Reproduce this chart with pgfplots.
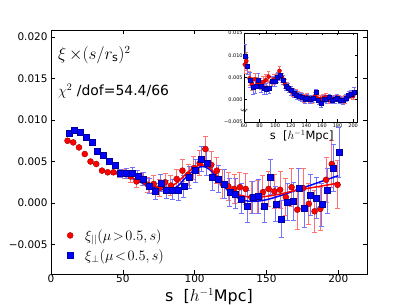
\documentclass[border=0pt]{standalone}
\usepackage{fontspec}
\setmainfont{DejaVu Sans}
\usepackage{pgfplots}
\usepackage{pgfplotstable}
\pgfplotsset{compat=1.18}

\pgfplotstableread{
s y
11.5 0.0075
15.5 0.0073
19.5 0.0067
23.5 0.0059
27.5 0.0050
31.5 0.0047
35.5 0.0039
39.5 0.0037
43.5 0.0037
}\redEarly
\pgfplotstableread{
s y e
47.5 0.0036 0.0005
51.5 0.0035 0.0006
55.5 0.0032 0.0007
59.5 0.0026 0.0007
63.5 0.0029 0.0008
67.5 0.0022 0.0009
71.5 0.0023 0.0010
75.5 0.0018 0.0010
79.5 0.0025 0.0011
83.5 0.0021 0.0012
87.5 0.0029 0.0012
91.5 0.0039 0.0013
95.5 0.0034 0.0013
99.5 0.0042 0.0014
103.5 0.0048 0.0015
107.5 0.0065 0.0015
111.5 0.0046 0.0016
115.5 0.0039 0.0016
119.5 0.0023 0.0017
123.5 0.0020 0.0017
127.5 0.0017 0.0018
131.5 0.0019 0.0018
135.5 0.0017 0.0019
139.5 0.0007 0.0019
143.5 0.0007 0.0020
147.5 0.0013 0.0020
151.5 0.0017 0.0021
155.5 0.0014 0.0021
159.5 0.0016 0.0022
163.5 0.0007 0.0022
167.5 0.0019 0.0023
171.5 -0.0008 0.0024
175.5 0.0018 0.0024
179.5 -0.0001 0.0025
183.5 -0.0010 0.0025
187.5 -0.0007 0.0026
191.5 0.0028 0.0027
195.5 0.0047 0.0028
199.5 0.0022 0.0029
}\redMain
\pgfplotstableread{
s y
12.5 0.0084
16.5 0.0088
20.5 0.0085
24.5 0.0079
28.5 0.0073
32.5 0.0062
36.5 0.0057
40.5 0.0050
44.5 0.0045
}\blueEarly
\pgfplotstableread{
s y e
48.5 0.0036 0.0005
52.5 0.0036 0.0006
56.5 0.0036 0.0007
60.5 0.0032 0.0007
64.5 0.0029 0.0008
68.5 0.0020 0.0009
72.5 0.0014 0.0010
76.5 0.0024 0.0010
80.5 0.0016 0.0011
84.5 0.0016 0.0012
88.5 0.0015 0.0012
92.5 0.0020 0.0013
96.5 0.0031 0.0013
100.5 0.0039 0.0014
104.5 0.0053 0.0015
108.5 0.0048 0.0015
112.5 0.0031 0.0016
116.5 0.0029 0.0016
120.5 0.0023 0.0017
124.5 0.0013 0.0017
128.5 0.0011 0.0018
132.5 0.0005 0.0018
136.5 -0.0004 0.0019
140.5 0.0007 0.0019
144.5 0.0008 0.0020
148.5 -0.0004 0.0020
152.5 0.0031 0.0021
156.5 -0.0001 0.0021
160.5 -0.0019 0.0022
164.5 0.0001 0.0022
168.5 0.0002 0.0023
172.5 0.0018 0.0024
176.5 -0.0006 0.0024
180.5 0.0010 0.0025
184.5 0.0006 0.0025
188.5 -0.0002 0.0026
192.5 0.0015 0.0027
196.5 0.0042 0.0028
200.5 0.0061 0.0030
}\blueMain
\pgfplotstableread{
s y e
61.0 0.0079 0.0020
63.0 0.0087 0.0020
67.0 0.0048 0.0016
70.5 0.0035 0.0015
74.0 0.0046 0.0014
77.5 0.0038 0.0013
81.0 0.0036 0.0013
84.5 0.0040 0.0012
88.0 0.0044 0.0012
91.5 0.0052 0.0012
95.0 0.0040 0.0011
98.5 0.0046 0.0011
102.0 0.0049 0.0011
105.5 0.0065 0.0011
109.0 0.0050 0.0010
112.5 0.0035 0.0010
116.0 0.0030 0.0010
119.5 0.0020 0.0010
123.0 0.0016 0.0009
126.5 0.0015 0.0009
130.0 0.0009 0.0009
133.5 0.0008 0.0009
137.0 0.0004 0.0009
140.5 0.0006 0.0008
144.0 0.0003 0.0008
147.5 0.0001 0.0008
151.0 0.0008 0.0008
154.5 0.0003 0.0008
158.0 0.0002 0.0008
161.5 0.0004 0.0008
165.0 0.0006 0.0008
168.5 0.0000 0.0008
172.0 0.0003 0.0008
175.5 -0.0001 0.0008
179.0 0.0005 0.0008
182.5 0.0002 0.0008
186.0 -0.0001 0.0008
189.5 0.0001 0.0008
193.0 0.0007 0.0008
196.5 0.0012 0.0008
200.0 0.0008 0.0008
}\redInset
\pgfplotstableread{
s y e
61.3 0.0099 0.0025
64.5 0.0076 0.0020
68.0 0.0045 0.0017
71.5 0.0029 0.0016
75.0 0.0030 0.0015
78.5 0.0045 0.0014
82.0 0.0030 0.0013
85.5 0.0025 0.0013
89.0 0.0024 0.0012
92.5 0.0027 0.0012
96.0 0.0042 0.0011
99.5 0.0042 0.0011
103.0 0.0050 0.0011
106.5 0.0055 0.0011
110.0 0.0045 0.0010
113.5 0.0030 0.0010
117.0 0.0027 0.0010
120.5 0.0021 0.0010
124.0 0.0014 0.0009
127.5 0.0011 0.0009
131.0 0.0008 0.0009
134.5 0.0006 0.0009
138.0 0.0002 0.0009
141.5 0.0004 0.0008
145.0 0.0001 0.0008
148.5 0.0003 0.0008
152.0 0.0016 0.0008
155.5 -0.0002 0.0008
159.0 -0.0008 0.0008
162.5 0.0002 0.0008
166.0 0.0001 0.0008
169.5 0.0005 0.0008
173.0 -0.0001 0.0008
176.5 0.0001 0.0008
180.0 0.0004 0.0008
183.5 0.0000 0.0008
187.0 -0.0002 0.0008
190.5 0.0004 0.0008
194.0 0.0011 0.0008
197.5 0.0013 0.0008
201.0 0.0018 0.0009
}\blueInset

\begin{document}
\begin{tikzpicture}
\path[use as bounding box] (-51bp,-31bp) rectangle (356bp,274bp);
\begin{axis}[
  name=main, at={(0,0)}, anchor=south west,
  scale only axis, width=316bp, height=244bp,
  xmin=0, xmax=220, ymin=-0.00855, ymax=0.02084,
  xtick={0,50,100,150,200},
  xticklabels={0,50,100,150,200},
  ytick={-0.005,0,0.005,0.010,0.015,0.020},
  yticklabels={−0.005,0.000,0.005,0.010,0.015,0.020},
  tick align=inside, tick pos=both,
  major tick length=4bp,
  tick style={black, line width=0.6bp},
  axis line style={line width=0.8bp},
  ticklabel style={font=\fontsize{10.5}{12}\selectfont},
  xticklabel style={inner sep=0.6bp},
  scaled y ticks=false,
  xlabel={s\ \ [$h^{-1}$Mpc]},
  xlabel style={font=\fontsize{16}{18}\selectfont, at={(axis description cs:0.5,0)}, anchor=base, yshift=-27.5bp, inner sep=0pt},
  legend style={draw=none, fill=none, at={(axis description cs:0,0)}, anchor=south west, xshift=13bp, yshift=8bp,
    font=\fontsize{14}{16}\selectfont, row sep=4bp, nodes={inner sep=2bp}},
  legend cell align=left,
  legend image code/.code={\path[draw=none,fill=none] (-3bp,0bp) -- (13bp,0bp); \draw[#1] plot coordinates {(0bp,0bp)};},
]
\addlegendimage{only marks, mark=*, mark size=3bp, red, mark options={fill=red, draw=red!70!black, line width=0.4bp}}
\addlegendentry{$\xi_{||}(\mu\!>\!0.5,s)$}
\addlegendimage{only marks, mark=square*, mark size=3bp, blue, mark options={fill=blue, draw=blue!70!black, line width=0.4bp}}
\addlegendentry{$\xi_{\perp}(\mu\!<\!0.5,s)$}

\addplot[forget plot, only marks, mark=*, mark size=3bp, mark options={fill=red, draw=red!60!black, line width=0.4bp}] table[x=s,y=y] {\redEarly};
\addplot[forget plot, only marks, mark=*, mark size=3bp, mark options={fill=red, draw=red!60!black, line width=0.4bp},
  error bars/.cd, y dir=both, y explicit,
  error bar style={red!55, line width=0.9bp},
  error mark options={rotate=90, red!55, mark size=2.5bp, line width=0.9bp}]
  table[x=s,y=y,y error=e] {\redMain};
\addplot[forget plot, only marks, mark=square*, mark size=3bp, mark options={fill=blue, draw=blue!60!black, line width=0.4bp}] table[x=s,y=y] {\blueEarly};
\addplot[forget plot, only marks, mark=square*, mark size=3bp, mark options={fill=blue, draw=blue!60!black, line width=0.4bp},
  error bars/.cd, y dir=both, y explicit,
  error bar style={blue!55, line width=0.9bp},
  error mark options={rotate=90, blue!55, mark size=2.5bp, line width=0.9bp}]
  table[x=s,y=y,y error=e] {\blueMain};

\addplot[forget plot, blue, line width=1.5bp, smooth, tension=0.6] coordinates {
(46,0.0039) (55,0.0031) (65,0.0023) (75,0.0017) (82,0.0016) (88,0.0020) (94,0.0031) (100,0.0040) (105,0.0044) (110,0.0041) (116,0.0030) (122,0.0017) (128,0.0008) (135,0.0003) (142,0.0002) (150,0.0004) (160,0.0009) (170,0.0015) (180,0.0021) (190,0.0027) (200,0.0033)};
\addplot[forget plot, red, line width=1.5bp, smooth, tension=0.6] coordinates {
(46,0.0037) (55,0.0031) (65,0.0024) (75,0.0019) (82,0.0019) (88,0.0025) (94,0.0035) (100,0.0043) (105,0.0046) (110,0.0043) (116,0.0032) (122,0.0020) (128,0.0012) (135,0.0008) (142,0.0007) (150,0.0008) (160,0.0011) (170,0.0015) (180,0.0018) (190,0.0021) (200,0.0024)};

\node[anchor=west, inner sep=0pt, font=\fontsize{16}{18}\selectfont] at (axis description cs:0.022,0.898) {$\xi\,{\times}(s/r_{\rm s})^2$};
\node[anchor=west, inner sep=0pt, font=\fontsize{14}{16}\selectfont] at (axis description cs:0.022,0.75) {$\chi^2$ /dof=54.4/66};
\end{axis}

\begin{axis}[
  at={(193bp,152bp)}, anchor=south west,
  scale only axis, width=113bp, height=89bp,
  xmin=60, xmax=205, ymin=-0.005, ymax=0.015,
  xtick={60,80,100,120,140,160,180,200},
  xticklabels={60,80,100,120,140,160,180,200},
  ytick={-0.005,0,0.005,0.010,0.015},
  yticklabels={−0.005,0.000,0.005,0.010,0.015},
  tick align=inside, tick pos=both,
  major tick length=2.5bp,
  tick style={black, line width=0.5bp},
  axis line style={line width=0.7bp},
  ticklabel style={font=\fontsize{5}{6}\selectfont, inner sep=1.2bp},
  scaled y ticks=false,
  xlabel={s\ \ [$h^{-1}$Mpc]},
  xlabel style={font=\fontsize{11.5}{13}\selectfont, at={(axis description cs:0.51,0)}, anchor=base, yshift=-18bp, inner sep=0pt},
  ylabel={$\xi$},
  ylabel style={font=\fontsize{8}{9}\selectfont, at={(axis description cs:0,0.48)}, anchor=center, xshift=-31bp, rotate=0},
]
\addplot[only marks, mark=*, mark size=2bp, mark options={fill=red, draw=red!60!black, line width=0.3bp},
  error bars/.cd, y dir=both, y explicit,
  error bar style={red!55, line width=0.7bp},
  error mark options={rotate=90, red!55, mark size=1.8bp, line width=0.7bp}]
  table[x=s,y=y,y error=e] {\redInset};
\addplot[only marks, mark=square*, mark size=2bp, mark options={fill=blue, draw=blue!60!black, line width=0.3bp},
  error bars/.cd, y dir=both, y explicit,
  error bar style={blue!55, line width=0.7bp},
  error mark options={rotate=90, blue!55, mark size=1.8bp, line width=0.7bp}]
  table[x=s,y=y,y error=e] {\blueInset};
\end{axis}
\end{tikzpicture}
\end{document}
